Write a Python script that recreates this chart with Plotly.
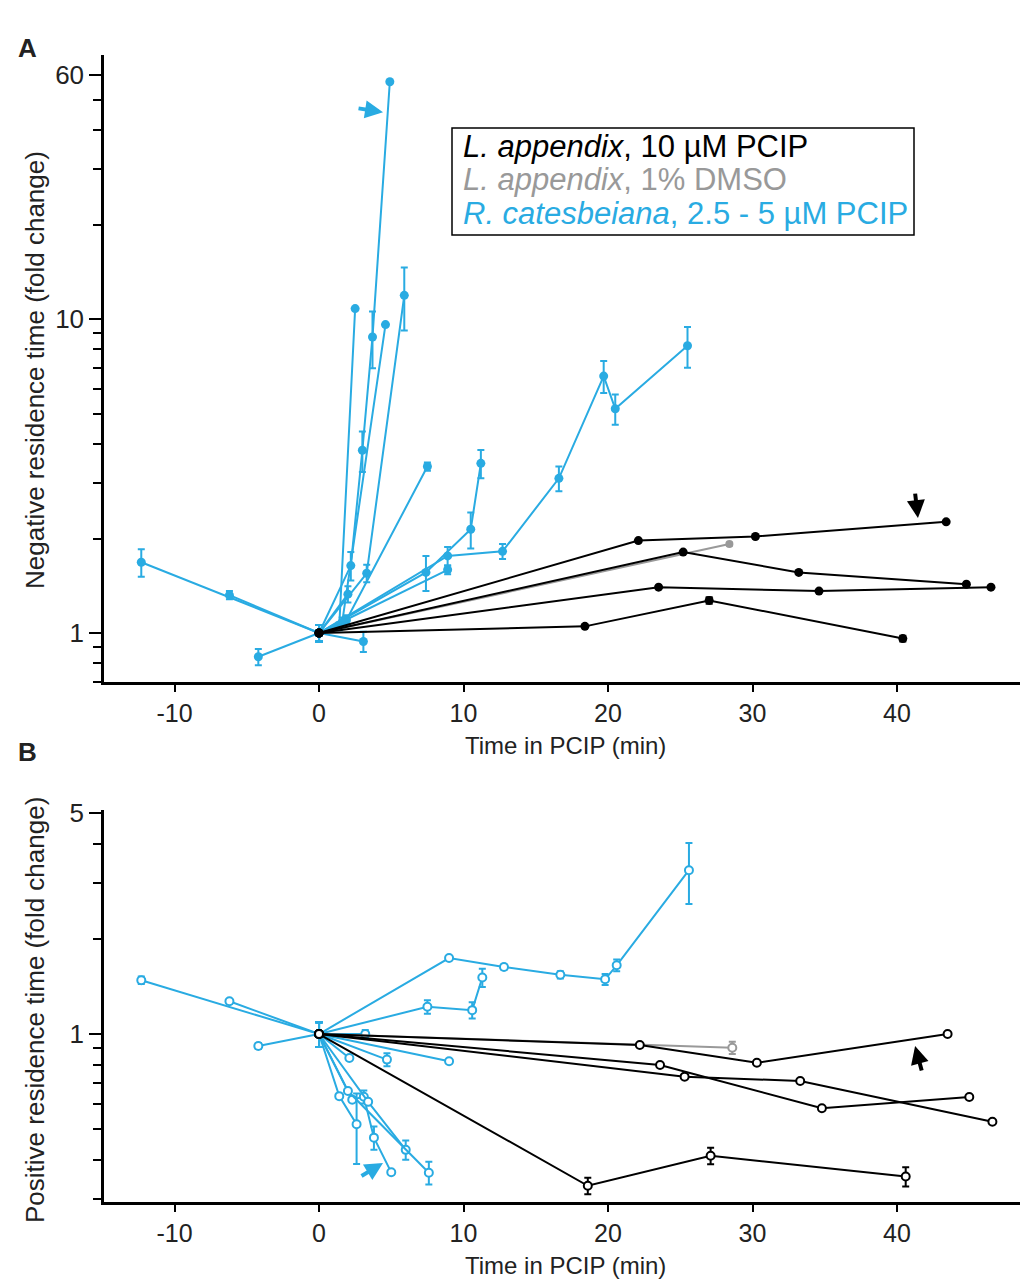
import plotly.graph_objects as go

BLUE = '#29abe2'
BLACK = '#000000'
GRAY = '#999999'

# ---------------- Panel A: negative residence time (fold change) ----------------
A_BLUE_T = [[-12.3, 0], [-6.2, 0], [-4.2, 0],
            [0, 1.4, 2.5], [0, 2.2, 3.0, 3.7, 4.9], [0, 1.6, 4.6], [0, 3.3, 5.9],
            [0, 1.9, 7.5], [0, 7.4, 10.5, 11.2], [0, 8.9],
            [0, 8.9, 12.7, 16.6, 19.7, 20.5, 25.5], [0, 3.07], [0, 2.0]]
A_BLUE_V = [[1.68, 1], [1.32, 1], [0.84, 1],
            [1, 1.05, 10.8], [1, 1.64, 3.82, 8.77, 57], [1, 1.08, 9.6], [1, 1.55, 11.9],
            [1, 1.1, 3.39], [1, 1.56, 2.14, 3.47], [1, 1.59],
            [1, 1.76, 1.82, 3.11, 6.58, 5.18, 8.22], [1, 0.94], [1, 1.33]]
A_BLUE_E = [[0.17, 0.06], [0.04, 0.06], [0.05, 0.06],
            [0.06, 0.03, 0], [0.06, 0.17, 0.56, 1.8, 0], [0.06, 0.04, 0], [0.06, 0.1, 2.7],
            [0.06, 0.04, 0.1], [0.06, 0.2, 0.28, 0.36], [0.06, 0.05],
            [0.06, 0.12, 0.1, 0.28, 0.77, 0.57, 1.22], [0.06, 0.07], [0.06, 0.08]]

A_BLACK_T = [[0, 22.1, 30.2, 43.4], [0, 25.2, 33.2, 44.8], [0, 23.5, 34.6, 46.5], [0, 18.4, 27.0, 40.4]]
A_BLACK_V = [[1, 1.97, 2.03, 2.26], [1, 1.81, 1.56, 1.43], [1, 1.40, 1.36, 1.40], [1, 1.05, 1.27, 0.96]]
A_BLACK_E = [[0, 0, 0, 0], [0, 0, 0, 0], [0, 0, 0, 0], [0, 0, 0.03, 0.02]]

A_GRAY_T = [[0, 28.4]]
A_GRAY_V = [[1, 1.92]]
A_GRAY_E = [[0, 0.02]]

# ---------------- Panel B: positive residence time (fold change) ----------------
B_BLUE_T = [[-12.3, 0], [-6.2, 0], [-4.2, 0],
            [0, 1.4, 2.6], [0, 2.3, 3.1, 3.8, 5.0], [0, 4.7], [0, 3.4, 6.0],
            [0, 2.0, 7.6], [0, 7.5, 10.6, 11.3], [0, 9.0],
            [0, 9.0, 12.8, 16.7, 19.8, 20.6, 25.6], [0, 3.2], [0, 2.1]]
B_BLUE_V = [[1.48, 1], [1.27, 1], [0.916, 1],
            [1, 0.636, 0.518], [1, 0.62, 0.633, 0.47, 0.365], [1, 0.83], [1, 0.61, 0.43],
            [1, 0.66, 0.364], [1, 1.22, 1.19, 1.51], [1, 0.82],
            [1, 1.74, 1.63, 1.54, 1.49, 1.65, 3.30], [1, 1.0], [1, 0.84]]
B_BLUE_E = [[0.04, 0.09], [0.02, 0.09], [0.02, 0.09],
            [0.09, 0, 0.13], [0.09, 0, 0.03, 0.04, 0], [0.09, 0.04], [0.09, 0, 0.03],
            [0.09, 0, 0.03], [0.09, 0.06, 0.07, 0.1], [0.09, 0],
            [0.09, 0, 0.03, 0.04, 0.06, 0.07, 0.72], [0.09, 0.03], [0.09, 0]]

B_BLACK_T = [[0, 22.2, 30.3, 43.5], [0, 25.3, 33.3, 46.6], [0, 23.6, 34.8, 45.0], [0, 18.6, 27.1, 40.6]]
B_BLACK_V = [[1, 0.923, 0.811, 1.0], [1, 0.733, 0.71, 0.528], [1, 0.798, 0.582, 0.632], [1, 0.331, 0.412, 0.354]]
B_BLACK_E = [[0, 0, 0, 0], [0, 0, 0, 0], [0, 0, 0, 0], [0, 0.02, 0.025, 0.025]]

B_GRAY_T = [[0, 28.6]]
B_GRAY_V = [[1, 0.905]]
B_GRAY_E = [[0, 0.04]]

X_TICKS = [-10, 0, 10, 20, 30, 40]
X_TICKTEXT = ['-10', '0', '10', '20', '30', '40']
A_Y_TICKS = [1, 10, 60]
A_Y_MINOR = [0.7, 0.8, 0.9, 2, 3, 4, 5, 6, 7, 8, 9, 20, 30, 40, 50]
B_Y_TICKS = [1, 5]
B_Y_MINOR = [0.3, 0.4, 0.5, 0.6, 0.7, 0.8, 0.9, 2, 3, 4]

LEGEND_LINES = ["<i>L. appendix</i>, 10 µM PCIP",
                "<i>L. appendix</i>, 1% DMSO",
                "<i>R. catesbeiana</i>, 2.5 - 5 µM PCIP"]
LEGEND_COLORS = [BLACK, GRAY, BLUE]

FONT = 'Liberation Sans, Arial, Helvetica, sans-serif'
H = 1279.0

fig = go.Figure()


def add_series(ts, vs, es, color, xa, ya, filled, size):
    for t, v, e in zip(ts, vs, es):
        if filled:
            marker = dict(symbol='circle', size=size, color=color, line=dict(width=0))
        else:
            marker = dict(symbol='circle', size=size, color='white', line=dict(color=color, width=2))
        fig.add_trace(go.Scatter(
            x=t, y=v, mode='lines+markers', xaxis=xa, yaxis=ya,
            line=dict(color=color, width=2), marker=marker,
            error_y=dict(type='data', array=e, symmetric=True, color=color,
                         thickness=2, width=3.5),
            showlegend=False, hoverinfo='skip'))


add_series(A_BLUE_T, A_BLUE_V, A_BLUE_E, BLUE, 'x', 'y', True, 9)
add_series(A_GRAY_T, A_GRAY_V, A_GRAY_E, GRAY, 'x', 'y', True, 8)
add_series(A_BLACK_T, A_BLACK_V, A_BLACK_E, BLACK, 'x', 'y', True, 9)
add_series(B_BLUE_T, B_BLUE_V, B_BLUE_E, BLUE, 'x2', 'y2', False, 8)
add_series(B_GRAY_T, B_GRAY_V, B_GRAY_E, GRAY, 'x2', 'y2', False, 8)
add_series(B_BLACK_T, B_BLACK_V, B_BLACK_E, BLACK, 'x2', 'y2', False, 8)

xcommon = dict(range=[-14.88, 48.51], tickmode='array', tickvals=X_TICKS, ticktext=X_TICKTEXT,
               ticks='outside', ticklen=7, tickwidth=2, tickcolor='black', automargin=False,
               showline=True, linecolor='black', linewidth=2.5, showgrid=False, zeroline=False,
               tickfont=dict(family=FONT, size=25, color='#222'), domain=[0, 1])


def ycommon(rng, dom, tv, minor):
    return dict(type='log', range=rng, domain=dom, tickmode='array', tickvals=tv,
                ticktext=[str(v) for v in tv], automargin=False,
                ticks='outside', ticklen=12, tickwidth=2, tickcolor='black',
                minor=dict(tickmode='array', tickvals=minor, ticks='outside', ticklen=8,
                           tickwidth=2, tickcolor='black', showgrid=False),
                showline=True, linecolor='black', linewidth=2.5, showgrid=False, zeroline=False,
                tickfont=dict(family=FONT, size=26, color='#222'))


fig.update_layout(
    template='none',
    width=1024, height=1279,
    margin=dict(l=104, r=4, t=0, b=0, pad=0, autoexpand=False),
    plot_bgcolor='white', paper_bgcolor='white',
    font=dict(family=FONT),
    showlegend=False,
    xaxis=dict(anchor='y', **xcommon),
    yaxis=dict(anchor='x', **ycommon([-0.156, 1.841], [(H - 682) / H, (H - 55) / H], A_Y_TICKS, A_Y_MINOR)),
    xaxis2=dict(anchor='y2', **xcommon),
    yaxis2=dict(anchor='x2', **ycommon([-0.5316, 0.709], [(H - 1202) / H, (H - 810) / H], B_Y_TICKS, B_Y_MINOR)),
)

# dashed reference line at fold change = 1
for xr, yr in [('x domain', 'y'), ('x2 domain', 'y2')]:
    fig.add_shape(type='line', xref=xr, yref=yr, x0=0, x1=1, y0=0, y1=0,
                  line=dict(color='#d6d6d6', width=4, dash='10px,8px'), layer='below')

# legend box
fig.add_shape(type='rect', xref='paper', yref='paper',
              x0=(452 - 104) / 916, x1=(914 - 104) / 916, y0=(H - 235) / H, y1=(H - 128) / H,
              line=dict(color='black', width=1.5), fillcolor='white', layer='above')


def px(xp):
    return (xp - 104) / 916.0


def py(yp):
    return (H - yp) / H


ann = []
ann.append(dict(text='<b>A</b>', xref='paper', yref='paper', x=px(27), y=py(48),
                showarrow=False, font=dict(size=26, color='#222'), xanchor='center', yanchor='middle'))
ann.append(dict(text='<b>B</b>', xref='paper', yref='paper', x=px(27), y=py(752),
                showarrow=False, font=dict(size=26, color='#222'), xanchor='center', yanchor='middle'))
ann.append(dict(text='Negative residence time (fold change)', xref='paper', yref='paper',
                x=px(35), y=py(370), textangle=-90, showarrow=False,
                font=dict(size=26, color='#222'), xanchor='center', yanchor='middle'))
ann.append(dict(text='Positive residence time (fold change)', xref='paper', yref='paper',
                x=px(35), y=py(1010), textangle=-90, showarrow=False,
                font=dict(size=26, color='#222'), xanchor='center', yanchor='middle'))
ann.append(dict(text='Time in PCIP (min)', xref='paper', yref='paper',
                x=px(565), y=py(745), showarrow=False,
                font=dict(size=24, color='#222'), xanchor='center', yanchor='middle'))
ann.append(dict(text='Time in PCIP (min)', xref='paper', yref='paper',
                x=px(565), y=py(1265), showarrow=False,
                font=dict(size=24, color='#222'), xanchor='center', yanchor='middle'))
for i, (txt, col) in enumerate(zip(LEGEND_LINES, LEGEND_COLORS)):
    ann.append(dict(text=txt, xref='paper', yref='paper', x=px(461), y=py(146 + 33.5 * i),
                    xanchor='left', yanchor='middle', showarrow=False,
                    font=dict(size=31, color=col)))
# arrows
ann.append(dict(x=4.43, y=1.659, xref='x', yref='y', ax=-26, ay=-4, text='', showarrow=True,
                arrowhead=2, arrowsize=0.9, arrowwidth=4, arrowcolor=BLUE))
ann.append(dict(x=41.45, y=0.366, xref='x', yref='y', ax=-3, ay=-26, text='', showarrow=True,
                arrowhead=2, arrowsize=0.9, arrowwidth=4, arrowcolor=BLACK))
ann.append(dict(x=41.25, y=-0.038, xref='x2', yref='y2', ax=7, ay=26, text='', showarrow=True,
                arrowhead=2, arrowsize=0.9, arrowwidth=4, arrowcolor=BLACK))
ann.append(dict(x=4.43, y=-0.408, xref='x2', yref='y2', ax=-23, ay=14, text='', showarrow=True,
                arrowhead=2, arrowsize=0.9, arrowwidth=4, arrowcolor=BLUE))
fig.update_layout(annotations=ann)

fig.write_html('out.html')
